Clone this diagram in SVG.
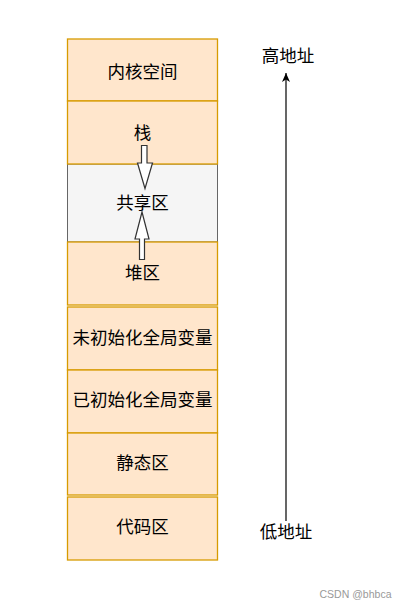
<svg xmlns="http://www.w3.org/2000/svg" width="405" height="609" viewBox="0 0 405 609">
<style>
.box{fill:#ffe6cc;stroke:#d79b00;stroke-width:1.3}
.gray{fill:#f5f5f5;stroke:#666666;stroke-width:1}
.lbl{font-family:"Noto Sans CJK SC","Noto Sans",sans-serif;font-size:17.5px;fill:#000;text-anchor:middle;dominant-baseline:central}
.blk{fill:#ffffff;stroke:#333333;stroke-width:1.2}
.wm{font-family:"Liberation Sans",Arial,sans-serif;font-size:10.5px;fill:#999999;text-anchor:middle;dominant-baseline:central}
</style>
<defs>
<marker id="ah" markerWidth="10" markerHeight="10" refX="9" refY="5" orient="auto" markerUnits="userSpaceOnUse">
<path d="M0,1 L9,5 L0,9 L2.5,5 Z" fill="#000"/>
</marker>
</defs>
<rect width="405" height="609" fill="#ffffff"/>
<g id="shared"><rect class="gray" x="67.5" y="164" width="150" height="78"/><text class="lbl" x="142.5" y="201.5">共享区</text></g>
<g id="kernel"><rect class="box" x="67.5" y="39" width="150" height="62"/><text class="lbl" x="142.5" y="70.5">内核空间</text></g>
<g id="stack"><rect class="box" x="67.5" y="101" width="150" height="63"/><text class="lbl" x="142.5" y="131">栈</text></g>
<g id="heap"><rect class="box" x="67.5" y="242" width="150" height="63"/><text class="lbl" x="142.5" y="271.5">堆区</text></g>
<g id="uninit"><rect class="box" x="67.5" y="307" width="150" height="63"/><text class="lbl" x="142.5" y="336.5">未初始化全局变量</text></g>
<g id="init"><rect class="box" x="67.5" y="370" width="150" height="63"/><text class="lbl" x="142.5" y="398.5">已初始化全局变量</text></g>
<g id="static"><rect class="box" x="67.5" y="433" width="150" height="62"/><text class="lbl" x="142.5" y="461.5">静态区</text></g>
<g id="code"><rect class="box" x="67.5" y="497" width="150" height="63"/><text class="lbl" x="142.5" y="525.5">代码区</text></g>
<g id="high"><text class="lbl" x="288" y="54.5">高地址</text></g>
<g id="low"><text class="lbl" x="286" y="530.5">低地址</text></g>
<g id="connectors">
<path class="blk" d="M141.5,145.5 L147,145.5 L147,163 L152.5,163 L145,188.5 L137.5,163 L141.5,163 Z"/>
<path class="blk" d="M139.5,259.5 L144.5,259.5 L144.5,239 L149,239 L142,212 L135,239 L139.5,239 Z"/>
<line x1="286" y1="521" x2="286" y2="73" stroke="#000" stroke-width="1.2" marker-end="url(#ah)"/>
</g>
<text class="wm" x="355.5" y="594">CSDN @bhbca</text>
</svg>
